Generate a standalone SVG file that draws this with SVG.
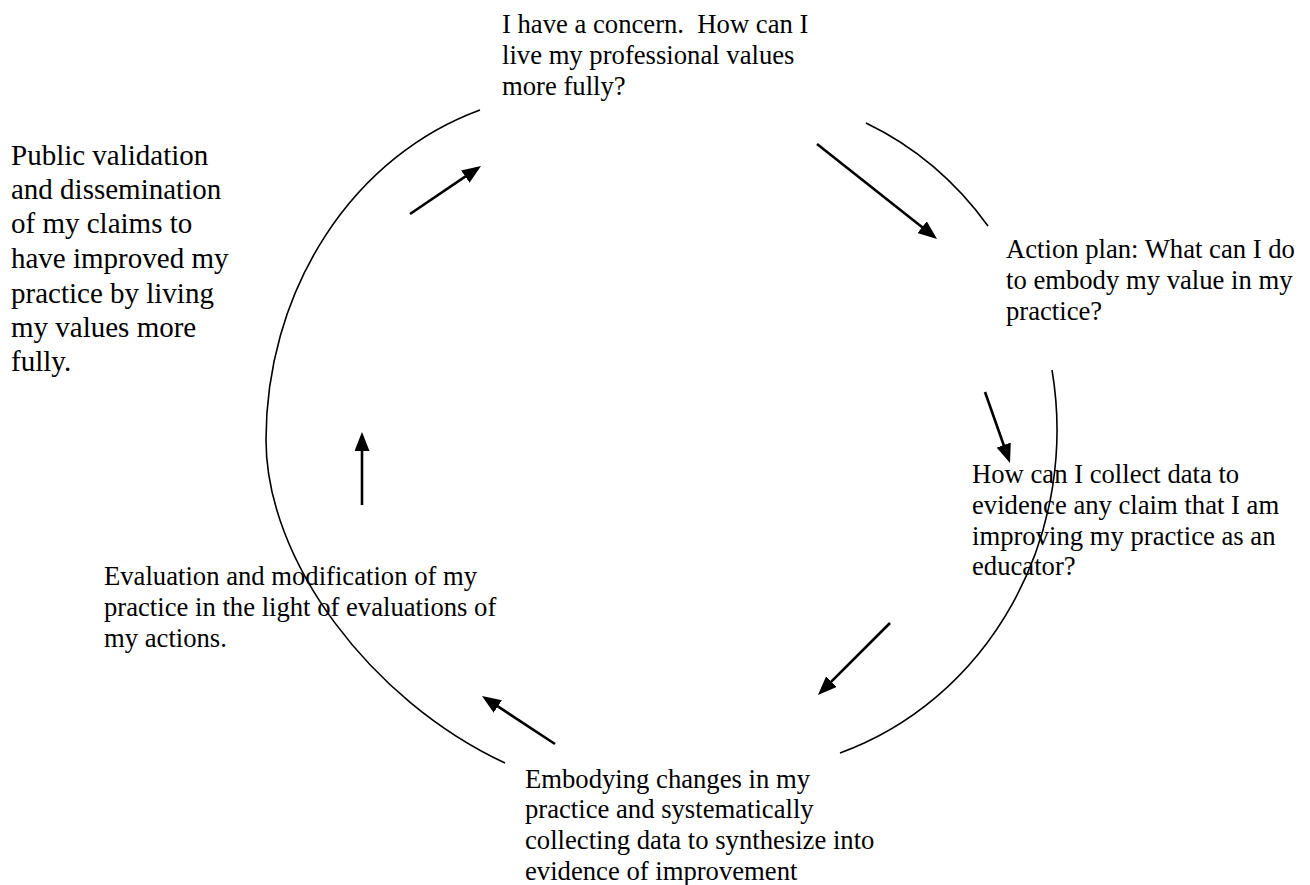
<svg xmlns="http://www.w3.org/2000/svg" width="1310" height="885" viewBox="0 0 1310 885">
  <style>
    .label { font-family: "Liberation Serif", "Times New Roman", serif; font-size: 26.67px; fill: #000; }
    .label-lg { font-family: "Liberation Serif", "Times New Roman", serif; font-size: 29px; fill: #000; }
    .ring { fill: none; stroke: #000; stroke-width: 1.6; }
    .flow { fill: none; stroke: #000; stroke-width: 2.6; marker-end: url(#head); }
  </style>
  <defs>
    <marker id="head" markerUnits="userSpaceOnUse" markerWidth="19" markerHeight="15" refX="15" refY="7.5" orient="auto">
      <path d="M0,0 L19,7.5 L0,15 z" fill="#000"/>
    </marker>
  </defs>
  <rect width="1310" height="885" fill="#fff"/>

  <!-- cycle ring, broken where the stage labels sit -->
  <g id="ring">
    <path class="ring" d="M480,110 A310,347 0 0,0 266,440 C266,560 370,700 505,763"/>
    <path class="ring" d="M866,123 A320,341 0 0,1 988,226"/>
    <path class="ring" d="M1052,370 A320,341 0 0,1 840,753"/>
  </g>

  <!-- stage-to-stage arrows -->
  <g id="connectors">
    <line class="flow" x1="410" y1="214" x2="477.7" y2="168.2"/>
    <line class="flow" x1="817" y1="144" x2="933.9" y2="236.5"/>
    <line class="flow" x1="985" y1="392" x2="1008.7" y2="459.2"/>
    <line class="flow" x1="890" y1="623" x2="820.8" y2="692.2"/>
    <line class="flow" x1="555" y1="744" x2="485.3" y2="698.2"/>
    <line class="flow" x1="362" y1="505" x2="362" y2="436"/>
  </g>

  <g id="node-concern">
    <text class="label" x="502" y="33" xml:space="preserve">I have a concern.  How can I</text>
    <text class="label" x="502" y="64">live my professional values</text>
    <text class="label" x="502" y="95">more fully?</text>
  </g>

  <g id="node-action-plan">
    <text class="label" x="1006" y="258">Action plan: What can I do</text>
    <text class="label" x="1006" y="289">to embody my value in my</text>
    <text class="label" x="1006" y="320">practice?</text>
  </g>

  <g id="node-collect-data">
    <text class="label" x="972" y="483">How can I collect data to</text>
    <text class="label" x="972" y="514">evidence any claim that I am</text>
    <text class="label" x="972" y="545">improving my practice as an</text>
    <text class="label" x="972" y="575">educator?</text>
  </g>

  <g id="node-embodying">
    <text class="label" x="525" y="788">Embodying changes in my</text>
    <text class="label" x="525" y="818">practice and systematically</text>
    <text class="label" x="525" y="849">collecting data to synthesize into</text>
    <text class="label" x="525" y="880">evidence of improvement</text>
  </g>

  <g id="node-evaluation">
    <text class="label" x="104" y="585">Evaluation and modification of my</text>
    <text class="label" x="104" y="616">practice in the light of evaluations of</text>
    <text class="label" x="104" y="647">my actions.</text>
  </g>

  <g id="node-public-validation">
    <text class="label-lg" x="11" y="165">Public validation</text>
    <text class="label-lg" x="11" y="199">and dissemination</text>
    <text class="label-lg" x="11" y="233">of my claims to</text>
    <text class="label-lg" x="11" y="268">have improved my</text>
    <text class="label-lg" x="11" y="303">practice by living</text>
    <text class="label-lg" x="11" y="337">my values more</text>
    <text class="label-lg" x="11" y="371">fully.</text>
  </g>
</svg>
